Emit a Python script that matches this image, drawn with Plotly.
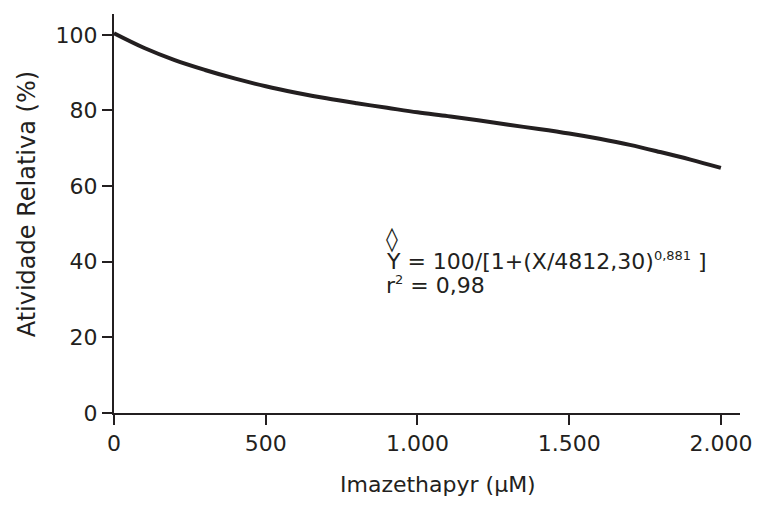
import plotly.graph_objects as go

# Data
conc = [0, 100, 200, 300, 400, 500, 600, 700, 800, 900, 1000,
        1100, 1200, 1300, 1400, 1500, 1600, 1700, 1800, 1900, 2000]
activity = [100.4, 96.5, 93.3, 90.7, 88.4, 86.4, 84.7, 83.2, 81.9, 80.7, 79.5,
            78.5, 77.4, 76.2, 75.1, 73.9, 72.5, 70.9, 69.0, 67.0, 64.8]

x_ticks = [0, 500, 1000, 1500, 2000]
x_tick_labels = ["0", "500", "1.000", "1.500", "2.000"]
y_ticks = [0, 20, 40, 60, 80, 100]
y_tick_labels = ["0", "20", "40", "60", "80", "100"]

x_title = "Imazethapyr (µM)"
y_title = "Atividade Relativa (%)"
eq_text = "Y = 100/[1+(X/4812,30)<sup><span style='font-size:13px'>0,881</span></sup> ]"
r2_text = "r<sup><span style='font-size:13px'>2</span></sup> = 0,98"

INK = "#231f20"
FONT = "DejaVu Sans, Arial, sans-serif"

# plot area in page pixels (page has an 8px body offset)
PL, PT, PR, PB = 113.5, 14.0, 740.0, 413.5
PW, PH = PR - PL, PB - PT


def px(xp):
    return (xp - PL) / PW


def py(yp):
    return (PB - yp) / PH


fig = go.Figure()
fig.add_trace(go.Scatter(
    x=conc, y=activity, mode="lines",
    line=dict(color=INK, width=4, shape="spline"),
    showlegend=False, hoverinfo="skip",
))

axis_common = dict(
    showline=True, linecolor=INK, linewidth=2,
    ticks="outside", ticklen=10, tickwidth=2, tickcolor=INK,
    showgrid=False, zeroline=False, automargin=False,
    tickfont=dict(family=FONT, size=22, color=INK),
)

fig.update_layout(
    width=760, height=506,
    margin=dict(l=PL - 8, r=768 - PR, t=PT - 8, b=506 - (PB - 8)),
    paper_bgcolor="white", plot_bgcolor="white",
    xaxis=dict(range=[0, 2063], tickvals=x_ticks, ticktext=x_tick_labels, **axis_common),
    yaxis=dict(range=[0, 105.5], tickvals=y_ticks, ticktext=y_tick_labels, **axis_common),
    font=dict(family=FONT, color=INK),
)

fig.add_annotation(text=x_title, xref="paper", yref="paper", x=px(438), y=py(485),
                   showarrow=False, xanchor="center", yanchor="middle",
                   font=dict(family=FONT, size=22, color=INK))
fig.add_annotation(text=y_title, xref="paper", yref="paper", x=px(26), y=py(205),
                   showarrow=False, textangle=-90, xanchor="center", yanchor="middle",
                   font=dict(family=FONT, size=24, color=INK))
fig.add_annotation(text=eq_text, xref="paper", yref="paper", x=px(384), y=py(261),
                   showarrow=False, xanchor="left", yanchor="middle",
                   font=dict(family=FONT, size=22, color=INK))
fig.add_annotation(text="◊", xref="paper", yref="paper", x=px(392), y=py(239),
                   showarrow=False, xanchor="center", yanchor="middle",
                   font=dict(family=FONT, size=24, color=INK))
fig.add_annotation(text=r2_text, xref="paper", yref="paper", x=px(384), y=py(285),
                   showarrow=False, xanchor="left", yanchor="middle",
                   font=dict(family=FONT, size=22, color=INK))

fig.write_html("out.html")
